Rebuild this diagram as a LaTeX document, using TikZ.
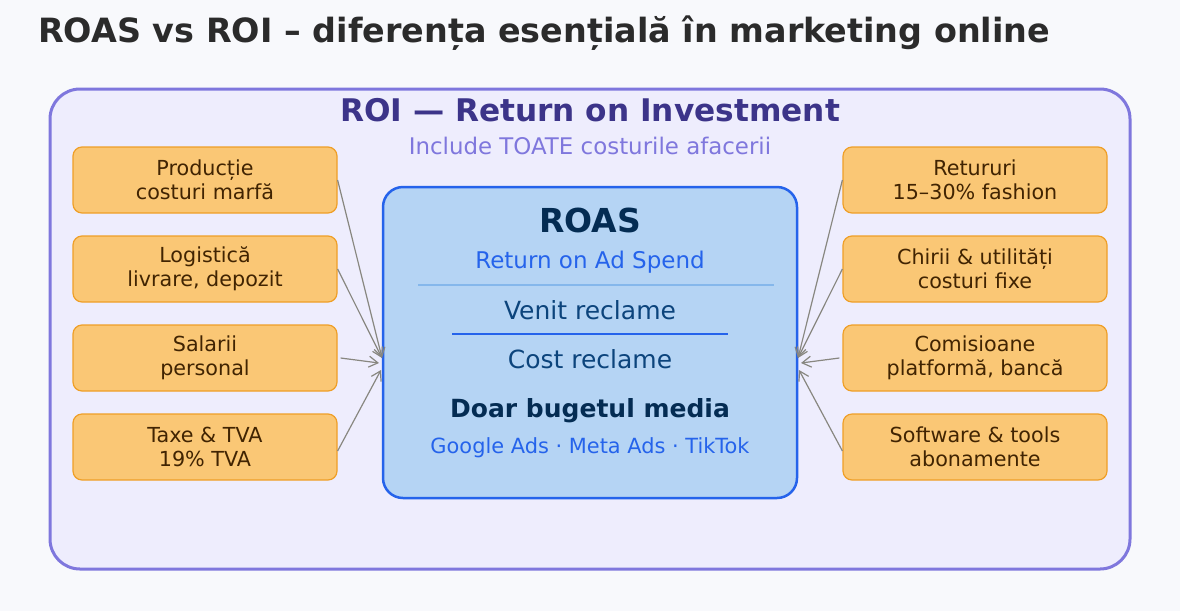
\documentclass[tikz,border=0pt]{standalone}
\usepackage{fontspec}
\setmainfont{DejaVu Sans}
\usetikzlibrary{arrows.meta}
\definecolor{pagebg}{HTML}{F8F9FC}
\definecolor{titlegray}{HTML}{2B2B2B}
\definecolor{roiline}{HTML}{7F77DD}
\definecolor{roifill}{HTML}{EEEDFD}
\definecolor{roitext}{HTML}{3C3489}
\definecolor{costfill}{HTML}{FAC775}
\definecolor{costline}{HTML}{EF9F27}
\definecolor{costtext}{HTML}{412402}
\definecolor{roasfill}{HTML}{B5D4F4}
\definecolor{roasline}{HTML}{2563EB}
\definecolor{roasdark}{HTML}{042C53}
\definecolor{roasmid}{HTML}{0C447C}
\definecolor{roaslight}{HTML}{85B7EB}
\definecolor{arrowgray}{HTML}{888780}

\begin{document}
\begin{tikzpicture}[x=1pt,y=-1pt,
  cost node/.style={draw=costline,fill=costfill,rounded corners=9pt,line width=1.2pt,minimum width=264pt,minimum height=66pt,inner sep=0pt,align=center,text=costtext,font=\fontsize{20.7}{24}\selectfont},
  cost arrow/.style={draw=arrowgray,line width=1.2pt,-{Straight Barb[length=9pt,width=11pt]}}]
  \useasboundingbox[fill=pagebg] (0,0) rectangle (1180,611);
  \node[anchor=base west,text=titlegray,font=\fontsize{33.4}{38}\selectfont\bfseries,inner sep=0pt] (title) at (38,42) {ROAS vs ROI – diferența esențială în marketing online};

  \draw[roiline,fill=roifill,line width=3pt,rounded corners=30pt] (50,89) rectangle (1130,569);
  \node[anchor=base,text=roitext,font=\fontsize{31.2}{36}\selectfont\bfseries,inner sep=0pt] (roi) at (590,121) {ROI — Return on Investment};
  \node[anchor=base,text=roiline,font=\fontsize{22.9}{26}\selectfont,inner sep=0pt] (roisub) at (590,154) {Include TOATE costurile afacerii};

  \node[cost node] (productie) at (205,180) {Producție\\costuri marfă};
  \node[cost node] (logistica) at (205,269) {Logistică\\livrare, depozit};
  \node[cost node] (salarii) at (205,358) {Salarii\\personal};
  \node[cost node] (taxe) at (205,447) {Taxe \& TVA\\19\% TVA};
  \node[cost node] (retururi) at (975,180) {Retururi\\15–30\% fashion};
  \node[cost node] (chirii) at (975,269) {Chirii \& utilități\\costuri fixe};
  \node[cost node] (comisioane) at (975,358) {Comisioane\\platformă, bancă};
  \node[cost node] (software) at (975,447) {Software \& tools\\abonamente};

  \node[draw=roasline,fill=roasfill,line width=2.5pt,rounded corners=20pt,minimum width=414pt,minimum height=311pt] (roas) at (590,342.5) {};
  \node[text=roasdark,font=\fontsize{33}{38}\selectfont\bfseries,inner sep=0pt] (roastitle) at (590,220) {ROAS};
  \node[anchor=base,text=roasline,font=\fontsize{23}{26}\selectfont,inner sep=0pt] (roasfull) at (590,268) {Return on Ad Spend};
  \draw[roaslight,line width=1.5pt] (418,285) -- (774,285);
  \node[anchor=base,text=roasmid,font=\fontsize{25}{28}\selectfont,inner sep=0pt] (venit) at (590,319) {Venit reclame};
  \draw[roasline,line width=2pt] (452,334) -- (728,334);
  \node[anchor=base,text=roasmid,font=\fontsize{25}{28}\selectfont,inner sep=0pt] (cost) at (590,368) {Cost reclame};
  \node[anchor=base,text=roasdark,font=\fontsize{25}{28}\selectfont\bfseries,inner sep=0pt] (doar) at (590,417) {Doar bugetul media};
  \node[anchor=base,text=roasline,font=\fontsize{20.9}{24}\selectfont,inner sep=0pt] (platforme) at (590,453) {Google Ads · Meta Ads · TikTok};

  \coordinate (in1) at (382,358);
  \coordinate (in2) at (379,363);
  \coordinate (in3) at (381,370);
  \coordinate (out1) at (798,358);
  \coordinate (out2) at (801,363);
  \coordinate (out3) at (799,370);
  \draw[cost arrow] (productie.east) -- (in1);
  \draw[cost arrow] (logistica.east) -- (in1);
  \draw[cost arrow] ([xshift=3pt]salarii.east) -- (in2);
  \draw[cost arrow] ([yshift=-4pt]taxe.east) -- (in3);
  \draw[cost arrow] (retururi.west) -- (out1);
  \draw[cost arrow] (chirii.west) -- (out1);
  \draw[cost arrow] ([xshift=-3pt]comisioane.west) -- (out2);
  \draw[cost arrow] ([yshift=-4pt]software.west) -- (out3);
\end{tikzpicture}
\end{document}
